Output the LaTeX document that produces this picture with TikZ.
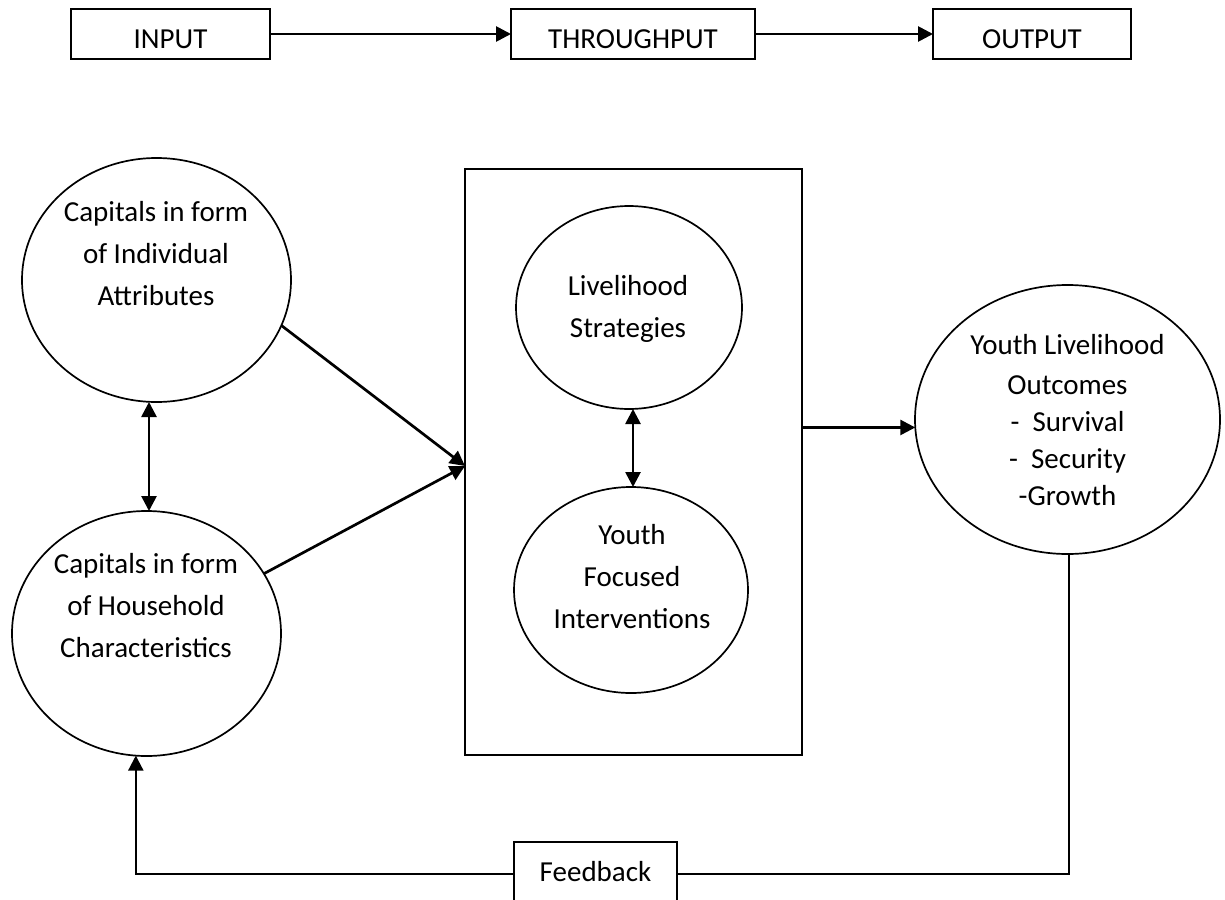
\documentclass[tikz,border=0pt]{standalone}
\usepackage{fontspec}
\setmainfont{Carlito}
\usetikzlibrary{arrows.meta,shapes.geometric,calc}
\begin{document}
\begin{tikzpicture}[x=1pt,y=-1pt,
  every node/.style={inner sep=0pt, outer sep=0pt},
  topbox/.style={draw, line width=2.1pt, minimum height=50pt, text height=28.6pt, text depth=0pt, font=\fontsize{29}{34}\selectfont},
  fbbox/.style={draw, line width=2.1pt, minimum width=163pt, minimum height=64pt, text height=20pt, text depth=6pt, font=\fontsize{29}{34}\selectfont},
  oval/.style={draw, ellipse, line width=1.7pt},
  lbl/.style={align=center, font=\fontsize{29}{42}\selectfont},
  arr/.style={line width=2.7pt, -{Triangle[length=15pt,width=15pt]}},
  darr/.style={line width=2.7pt, {Triangle[length=15pt,width=15pt]}-{Triangle[length=15pt,width=15pt]}},
  fbline/.style={line width=2pt},
  fbarr/.style={line width=2.2pt, -{Triangle[length=15pt,width=15pt]}},
]
\useasboundingbox (0,0) rectangle (1225,899);
\clip (0,0) rectangle (1225,899);
\fill[white] (0,0) rectangle (1225,899);

% top row
\node[topbox, minimum width=199pt] (input) at (170.5,34) {INPUT};
\node[topbox, minimum width=244pt] (through) at (633,34) {THROUGHPUT};
\node[topbox, minimum width=198pt] (output) at (1032,34) {OUTPUT};
\draw[arr] (input.east) -- (through.west);
\draw[arr] (through.east) -- (output.west);

% central box
\node[draw, line width=2.3pt, minimum width=337pt, minimum height=586pt] (box) at (633.5,462) {};
\coordinate (meet) at ($(box.west)+(0,4)$);

% ellipses
\node[oval, minimum width=269pt, minimum height=244pt] (ind) at (156.5,280) {};
\node[oval, minimum width=269pt, minimum height=245pt] (hh) at (146.5,633.5) {};
\node[oval, minimum width=226pt, minimum height=203pt] (ls) at (629,307.5) {};
\node[oval, minimum width=234pt, minimum height=206pt] (yf) at (631,590) {};
\node[oval, minimum width=305pt, minimum height=269pt] (out) at (1067.5,419.5) {};

% labels
\node[lbl] (indT) at (156,254) {Capitals in form\\of Individual\\Attributes};
\node[lbl] (hhT) at (146,606) {Capitals in form\\of Household\\Characteristics};
\node[lbl] (lsT) at (628,309) {Livelihood\\Strategies};
\node[lbl] (yfT) at (632,576.5) {Youth\\Focused\\Interventions};
\node[lbl, font=\fontsize{29}{40}\selectfont] (outT) at (1067.5,420) {Youth Livelihood\\Outcomes\\[-3pt]-\ \ Survival\\[-3pt]-\ \ Security\\[-3pt]-Growth};

% feedback box
\node[fbbox] (fb) at (595.5,874) {Feedback};

% connectors
\draw[darr] ([xshift=2.5pt]hh.north |- ind.south) -- ([xshift=2.5pt]hh.north);
\draw[arr] (ind.-20.4) -- (meet);
\draw[arr] (hh.27.8) -- (meet);
\draw[darr] ([xshift=2pt]yf.north |- ls.south) -- ([xshift=2pt]yf.north);
\draw[arr] (box.east |- out.183) -- (out.183);
\draw[fbline] ([xshift=1.5pt]out.south) |- (fb.east);
\draw[fbarr] (fb.west) -| (hh.265);
\end{tikzpicture}
\end{document}
